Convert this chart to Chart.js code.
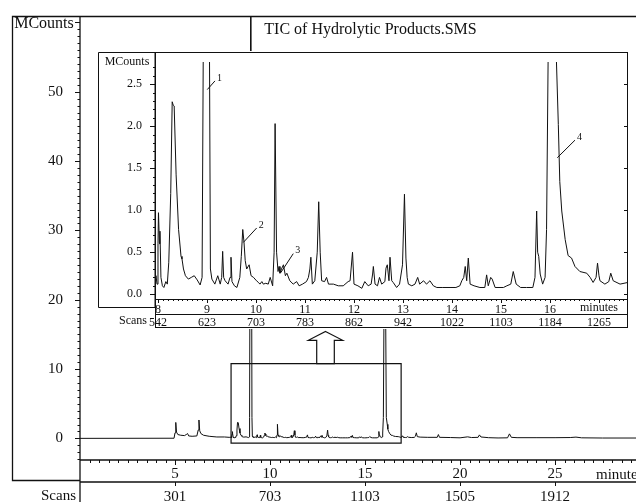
<!DOCTYPE html>
<html>
<head>
<meta charset="utf-8">
<script src="https://cdn.jsdelivr.net/npm/chart.js@4.4.1/dist/chart.umd.min.js"></script>
<style>
  html, body { margin: 0; padding: 0; background: #fff; }
  #wrap { position: relative; width: 636px; height: 502px; overflow: hidden; }
  #mainCanvas { position: absolute; left: 0; top: 0; }
  #insetCanvas { position: absolute; left: 97px; top: 51px; }
</style>
</head>
<body>
<div id="wrap">
  <canvas id="mainCanvas" width="636" height="502"></canvas>
  <canvas id="insetCanvas" width="533" height="278"></canvas>
</div>
<script>
// TIC trace (minutes, MCounts) - before the zoomed window
const preTime = [0, 4.95, 5.0, 5.04, 5.08, 5.15, 5.3, 5.5, 5.62, 5.66, 5.72, 5.9, 6.15, 6.22, 6.26, 6.3, 6.36, 6.5, 6.8, 7.2, 7.6, 7.85];
const preCounts = [0, 0.02, 0.8, 2.3, 0.9, 0.55, 0.45, 0.4, 0.6, 0.7, 0.35, 0.3, 0.35, 1.2, 2.65, 1.1, 0.7, 0.45, 0.3, 0.2, 0.2, 0.15];

// zoomed window 7.94 - 17.6 min (also shown in the inset)
const insetTime = [
  7.94, 7.96, 7.98, 8.00, 8.01, 8.03, 8.04, 8.06, 8.09, 8.12,
  8.16, 8.19, 8.22, 8.26, 8.29, 8.31, 8.33, 8.37, 8.42, 8.47,
  8.49, 8.52, 8.56, 8.62, 8.68, 8.74, 8.80, 8.86, 8.90, 8.925,
  8.99, 9.05, 9.07, 9.10, 9.16, 9.22, 9.27, 9.30, 9.32, 9.34,
  9.37, 9.43, 9.47, 9.49, 9.51, 9.56, 9.61, 9.67, 9.70, 9.73,
  9.755, 9.78, 9.81, 9.86, 9.90, 9.95, 10.01, 10.05, 10.08, 10.12,
  10.15, 10.20, 10.25, 10.29, 10.34, 10.37, 10.39, 10.42, 10.45, 10.47,
  10.49, 10.52, 10.56, 10.60, 10.63, 10.69, 10.76, 10.83, 10.88, 10.95,
  11.03, 11.07, 11.10, 11.12, 11.15, 11.20, 11.25, 11.28, 11.31, 11.34,
  11.40, 11.44, 11.48, 11.58, 11.68, 11.78, 11.88, 11.92, 11.97, 12.00,
  12.08, 12.16, 12.22, 12.29, 12.35, 12.38, 12.395, 12.43, 12.48, 12.52,
  12.565, 12.63, 12.653, 12.68, 12.714, 12.735, 12.77, 12.80, 12.87, 12.93,
  12.99, 13.03, 13.06, 13.085, 13.11, 13.18, 13.245, 13.30, 13.34, 13.42,
  13.48, 13.55, 13.62, 13.69, 13.80, 13.96, 14.08, 14.16, 14.20, 14.24,
  14.27, 14.30, 14.333, 14.37, 14.45, 14.57, 14.67, 14.707, 14.74, 14.79,
  14.82, 14.88, 14.98, 15.05, 15.12, 15.20, 15.25, 15.31, 15.40, 15.52,
  15.65, 15.694, 15.728, 15.748, 15.77, 15.80, 15.85, 15.90, 15.93, 15.965,
  16.04, 16.12, 16.17, 16.20, 16.24, 16.31, 16.37, 16.44, 16.51, 16.61,
  16.75, 16.82, 16.88, 16.94, 16.97, 17.00, 17.02, 17.12, 17.20, 17.24,
  17.29, 17.43, 17.59
];
const insetCounts = [
  0.16, 0.22, 0.12, 0.60, 0.97, 0.60, 0.75, 0.20, 0.10, 0.08,
  0.15, 0.12, 0.38, 1.20, 2.29, 2.25, 2.24, 1.42, 0.77, 0.45,
  0.42, 0.30, 0.22, 0.18, 0.20, 0.22, 0.17, 0.11, 0.20, 3.00,
  75.0, 3.00, 0.30, 0.18, 0.12, 0.22, 0.12, 0.20, 0.51, 0.20,
  0.16, 0.12, 0.20, 0.44, 0.15, 0.10, 0.08, 0.20, 0.45, 0.77,
  0.62, 0.40, 0.30, 0.35, 0.22, 0.20, 0.16, 0.14, 0.12, 0.15,
  0.12, 0.13, 0.12, 0.20, 0.10, 0.50, 2.03, 0.50, 0.27, 0.33,
  0.25, 0.30, 0.35, 0.22, 0.25, 0.16, 0.12, 0.15, 0.10, 0.12,
  0.15, 0.20, 0.30, 0.44, 0.12, 0.16, 0.50, 1.10, 0.50, 0.16,
  0.15, 0.20, 0.12, 0.12, 0.10, 0.10, 0.15, 0.16, 0.50, 0.12,
  0.10, 0.07, 0.15, 0.10, 0.12, 0.24, 0.33, 0.12, 0.10, 0.20,
  0.12, 0.15, 0.31, 0.35, 0.16, 0.44, 0.16, 0.14, 0.08, 0.12,
  0.35, 1.19, 0.43, 0.20, 0.12, 0.10, 0.12, 0.20, 0.12, 0.16,
  0.12, 0.16, 0.10, 0.08, 0.08, 0.08, 0.08, 0.10, 0.16, 0.20,
  0.33, 0.16, 0.43, 0.12, 0.10, 0.08, 0.08, 0.23, 0.10, 0.20,
  0.18, 0.08, 0.08, 0.08, 0.10, 0.12, 0.27, 0.12, 0.08, 0.08,
  0.08, 0.20, 0.99, 0.50, 0.45, 0.24, 0.12, 0.20, 0.77, 3.00,
  38.0, 3.00, 2.02, 1.34, 0.99, 0.65, 0.46, 0.43, 0.33, 0.27,
  0.25, 0.20, 0.14, 0.20, 0.37, 0.22, 0.16, 0.12, 0.15, 0.25,
  0.16, 0.12, 0.14
];

// after the zoomed window
const postTime = [17.65, 17.7, 17.75, 17.9, 18.3, 18.8, 18.86, 18.92, 19.5, 20.0, 20.4, 20.6, 20.95, 21.02, 21.1, 21.5, 22.0, 22.5, 22.6, 22.7, 23.0, 24.0, 25.0, 25.8, 26.1, 26.4, 27.5, 29.3];
const postCounts = [0.3, 0.8, 0.25, 0.18, 0.15, 0.15, 0.55, 0.15, 0.12, 0.08, 0.22, 0.12, 0.15, 0.5, 0.2, 0.1, 0.06, 0.08, 0.65, 0.15, 0.1, 0.1, 0.1, 0.12, 0.18, 0.08, 0.05, 0.05];

// axes
const mainMinuteTicks = [5, 10, 15, 20, 25];
const mainScanLabels = ['301', '703', '1103', '1505', '1912'];
const mainCountTicks = [0, 10, 20, 30, 40, 50];

const insetMinuteTicks = [8, 9, 10, 11, 12, 13, 14, 15, 16];
const insetScanTicks = [8, 9, 10, 11, 12, 13, 14, 15, 16, 17];
const insetScanLabels = ['542', '623', '703', '783', '862', '942', '1022', '1103', '1184', '1265'];
const insetCountTicks = [0, 0.5, 1, 1.5, 2, 2.5];

// numbered peaks in the inset: point on the peak and end of the leader
const peakNames = ['1', '2', '3', '4'];
const peakTimes = [9.006, 9.741, 10.504, 16.149];
const peakCounts = [2.435, 0.616, 0.255, 1.624];
const tagTimes = [9.163, 10.014, 10.761, 16.51];
const tagCounts = [2.538, 0.788, 0.483, 1.833];

const ink = '#111';
const serif = "'Liberation Serif', 'Times New Roman', serif";

function toPoints(xs, ys) {
  return xs.map((x, i) => ({ x: x, y: ys[i] }));
}
function fixedTicks(list) {
  return function (scale) { scale.ticks = list.map(v => ({ value: v })); };
}
function line(ctx, x1, y1, x2, y2) {
  ctx.moveTo(x1, y1);
  ctx.lineTo(x2, y2);
}

const mainTime = preTime.concat(insetTime, postTime);
const mainCounts = preCounts.concat(insetCounts, postCounts);

const mainFrame = {
  id: 'mainFrame',
  afterDraw(chart) {
    const ctx = chart.ctx;
    const a = chart.chartArea;
    const sx = chart.scales.x, sy = chart.scales.y, s2 = chart.scales.x2;
    ctx.save();
    ctx.strokeStyle = ink;
    ctx.lineWidth = 1.3;
    ctx.beginPath();
    ctx.rect(12.5, a.top, a.left - 12.5, 464);
    line(ctx, a.left, a.top, a.right, a.top);
    line(ctx, a.left, a.top, a.left, chart.height);
    line(ctx, a.left, a.bottom, a.right, a.bottom);
    line(ctx, a.left, s2.top, a.right, s2.top);
    ctx.stroke();

    // y ticks, minor every 1, major every 10
    ctx.lineWidth = 1;
    ctx.beginPath();
    for (let v = -3; v <= 60; v++) {
      const py = Math.round(sy.getPixelForValue(v)) + 0.5;
      const len = v % 10 === 0 ? 5 : 2.5;
      line(ctx, a.left - len, py, a.left, py);
    }
    // minute ticks every 0.5
    for (let t = 0.5; t < 29.3; t += 0.5) {
      const px = Math.round(sx.getPixelForValue(t)) + 0.5;
      const len = t % 5 === 0 ? 5 : 3;
      line(ctx, px, a.bottom, px, a.bottom + len);
    }
    mainMinuteTicks.forEach(t => {
      const px = Math.round(s2.getPixelForValue(t)) + 0.5;
      line(ctx, px, s2.top, px, s2.top + 4);
    });
    ctx.stroke();

    // zoom window and the arrow up to the inset
    ctx.lineWidth = 1.2;
    ctx.beginPath();
    const rl = sx.getPixelForValue(7.95), rr = sx.getPixelForValue(16.9);
    const rt = sy.getPixelForValue(10.78), rb = sy.getPixelForValue(-0.7);
    ctx.rect(rl, rt, rr - rl, rb - rt);
    ctx.stroke();

    const ac = sx.getPixelForValue(12.92);
    const headW = sx.getPixelForValue(12.92 + 0.905) - ac;
    const shaftW = sx.getPixelForValue(12.92 + 0.463) - ac;
    const tip = sy.getPixelForValue(15.42), base = sy.getPixelForValue(14.14);
    ctx.beginPath();
    ctx.moveTo(ac, tip);
    ctx.lineTo(ac + headW, base);
    ctx.lineTo(ac + shaftW, base);
    ctx.lineTo(ac + shaftW, rt);
    ctx.lineTo(ac - shaftW, rt);
    ctx.lineTo(ac - shaftW, base);
    ctx.lineTo(ac - headW, base);
    ctx.closePath();
    ctx.fillStyle = '#fff';
    ctx.fill();
    ctx.stroke();

    // texts
    ctx.fillStyle = ink;
    ctx.font = '16px ' + serif;
    ctx.textAlign = 'center';
    ctx.textBaseline = 'alphabetic';
    ctx.fillText('TIC of Hydrolytic Products.SMS', 370.5, 34);
    ctx.fillText('MCounts', 44, 28);
    ctx.font = '15px ' + serif;
    ctx.textAlign = 'left';
    ctx.fillText('minutes', 596, 479);
    ctx.textAlign = 'right';
    ctx.fillText('Scans', 76, 500);
    ctx.restore();
  }
};

new Chart(document.getElementById('mainCanvas'), {
  type: 'line',
  data: {
    datasets: [{
      data: toPoints(mainTime, mainCounts),
      borderColor: ink,
      borderWidth: 1,
      pointRadius: 0,
      fill: false,
      tension: 0
    }]
  },
  options: {
    responsive: false,
    animation: false,
    events: [],
    layout: { padding: { left: 12, top: 9, right: 0, bottom: 0 } },
    plugins: { legend: { display: false }, tooltip: { enabled: false } },
    scales: {
      x: {
        type: 'linear', min: 0, max: 29.26, weight: 0,
        grid: { display: false }, border: { display: false },
        afterBuildTicks: fixedTicks(mainMinuteTicks),
        afterFit: s => { s.height = 22; },
        ticks: { autoSkip: false, maxRotation: 0, padding: -1, color: ink,
                 font: { family: serif, size: 15, lineHeight: 1 } }
      },
      x2: {
        type: 'linear', position: 'bottom', min: 0, max: 29.26, weight: 1,
        grid: { display: false }, border: { display: false },
        afterBuildTicks: fixedTicks(mainMinuteTicks),
        afterFit: s => { s.height = 20; },
        ticks: { autoSkip: false, maxRotation: 0, padding: 0, color: ink,
                 font: { family: serif, size: 15, lineHeight: 1 },
                 callback: (v, i) => mainScanLabels[i] }
      },
      y: {
        type: 'linear', min: -3.12, max: 60.85,
        grid: { display: false }, border: { display: false },
        afterBuildTicks: fixedTicks(mainCountTicks),
        afterFit: s => { s.width = 68; },
        ticks: { padding: 9, color: ink, font: { family: serif, size: 15, lineHeight: 1 } }
      }
    }
  },
  plugins: [mainFrame]
});

const insetFrame = {
  id: 'insetFrame',
  beforeDraw(chart) {
    const ctx = chart.ctx;
    ctx.save();
    ctx.fillStyle = '#fff';
    ctx.fillRect(0, 0, chart.width, chart.height);
    ctx.restore();
  },
  afterDraw(chart) {
    const ctx = chart.ctx;
    const a = chart.chartArea;
    const sx = chart.scales.x, sy = chart.scales.y, s2 = chart.scales.x2;
    ctx.save();
    ctx.strokeStyle = ink;
    ctx.lineWidth = 1;
    ctx.beginPath();
    ctx.rect(1.5, 1.5, a.left - 1.5, 255);
    line(ctx, a.left, 1.5, a.right, 1.5);
    line(ctx, a.right - 0.5, 1.5, a.right - 0.5, s2.bottom);
    line(ctx, a.left + 0.5, 1.5, a.left + 0.5, s2.bottom);
    line(ctx, a.left, a.bottom + 0.5, a.right, a.bottom + 0.5);
    line(ctx, a.left, s2.top + 0.5, a.right, s2.top + 0.5);
    line(ctx, a.left, s2.bottom - 0.5, a.right, s2.bottom - 0.5);

    for (let k = 0; k <= 27; k++) {
      const v = k / 10;
      const py = Math.round(sy.getPixelForValue(v)) + 0.5;
      const major = k % 5 === 0;
      line(ctx, a.left - (major ? 5 : 2), py, a.left, py);
      if (major) line(ctx, a.right - 4, py, a.right, py);
    }
    for (let k = 80; k <= 175; k++) {
      const px = Math.round(sx.getPixelForValue(k / 10)) + 0.5;
      const len = k % 10 === 0 ? 4 : 2;
      line(ctx, px, a.bottom, px, a.bottom + len);
    }
    ctx.stroke();

    // peak numbers
    ctx.beginPath();
    peakNames.forEach((n, i) => {
      line(ctx, sx.getPixelForValue(peakTimes[i]), sy.getPixelForValue(peakCounts[i]),
                sx.getPixelForValue(tagTimes[i]), sy.getPixelForValue(tagCounts[i]));
    });
    ctx.stroke();
    ctx.fillStyle = ink;
    ctx.font = '10px ' + serif;
    ctx.textAlign = 'left';
    ctx.textBaseline = 'middle';
    peakNames.forEach((n, i) => {
      ctx.fillText(n, sx.getPixelForValue(tagTimes[i]) + 2, sy.getPixelForValue(tagCounts[i]) - 3);
    });

    ctx.font = '12px ' + serif;
    ctx.textAlign = 'center';
    ctx.textBaseline = 'alphabetic';
    ctx.fillText('MCounts', 30, 14);
    ctx.textBaseline = 'middle';
    ctx.fillText('minutes', sx.getPixelForValue(17.0), (a.bottom + s2.top) / 2 + 1);
    ctx.textAlign = 'right';
    ctx.fillText('Scans', a.left - 8, (s2.top + s2.bottom) / 2);
    ctx.restore();
  }
};

new Chart(document.getElementById('insetCanvas'), {
  type: 'line',
  data: {
    datasets: [{
      data: toPoints(insetTime, insetCounts),
      borderColor: ink,
      borderWidth: 1,
      pointRadius: 0,
      fill: false,
      tension: 0
    }]
  },
  options: {
    responsive: false,
    animation: false,
    events: [],
    layout: { padding: { left: 1, top: 1, right: 2, bottom: 1 } },
    plugins: { legend: { display: false }, tooltip: { enabled: false } },
    scales: {
      x: {
        type: 'linear', min: 7.939, max: 17.592, weight: 0,
        grid: { display: false }, border: { display: false },
        afterBuildTicks: fixedTicks(insetMinuteTicks),
        afterFit: s => { s.height = 15; },
        ticks: { autoSkip: false, maxRotation: 0, padding: -3, color: ink,
                 font: { family: serif, size: 12, lineHeight: 1 } }
      },
      x2: {
        type: 'linear', position: 'bottom', min: 7.939, max: 17.592, weight: 1,
        grid: { display: false }, border: { display: false },
        afterBuildTicks: fixedTicks(insetScanTicks),
        afterFit: s => { s.height = 14; },
        ticks: { autoSkip: false, maxRotation: 0, padding: -5, color: ink,
                 font: { family: serif, size: 12, lineHeight: 1 },
                 callback: (v, i) => insetScanLabels[i] }
      },
      y: {
        type: 'linear', min: -0.057, max: 2.763,
        grid: { display: false }, border: { display: false },
        afterBuildTicks: fixedTicks(insetCountTicks),
        afterFit: s => { s.width = 57; },
        ticks: { padding: 5, color: ink, font: { family: serif, size: 12, lineHeight: 1 },
                 callback: v => v.toFixed(1) }
      }
    }
  },
  plugins: [insetFrame]
});
</script>
</body>
</html>
